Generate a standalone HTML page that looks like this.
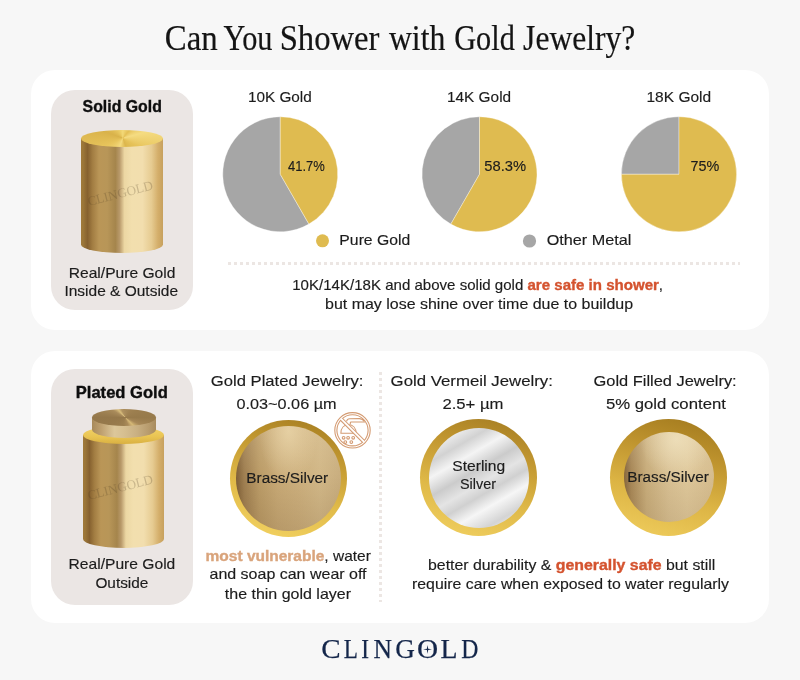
<!DOCTYPE html>
<html><head><meta charset="utf-8"><title>Can You Shower with Gold Jewelry?</title>
<style>
*{margin:0;padding:0;box-sizing:border-box}
html,body{width:800px;height:680px;overflow:hidden;background:#f7f7f7;font-family:"Liberation Sans",sans-serif}
.a{position:absolute}
.card{position:absolute;left:31px;width:738px;background:#fff;border-radius:24px}
.panel{position:absolute;left:51px;width:142px;background:#ebe6e4;border-radius:24px}
.hdots{position:absolute;height:3px;background:repeating-linear-gradient(90deg,#ece6e3 0 3px,transparent 3px 6px)}
.vdots{position:absolute;width:3px;background:repeating-linear-gradient(180deg,#ece6e3 0 3px,transparent 3px 6px)}
.cylside{position:absolute;background:linear-gradient(90deg,#a07a3a 0%,#9a7538 3%,#86612f 8%,#a27d42 14%,#ba9657 22%,#b89658 32%,#a5854c 42%,#b8996a 47%,#ecd7a3 53%,#f2dfae 62%,#f2deae 75%,#e6cb91 86%,#d4ae6a 94%,#c7a15e 100%)}
.ell{position:absolute;border-radius:50%}
.coin{position:absolute;border-radius:50%}
svg{position:absolute;left:0;top:0;will-change:transform}
</style></head><body>
<div class="card" style="top:70px;height:260px"></div>
<div class="card" style="top:351px;height:272px"></div>
<div class="panel" style="top:90px;height:220px"></div>
<div class="panel" style="top:369px;height:236px"></div>
<div class="hdots" style="left:228px;top:262px;width:512px"></div>
<div class="vdots" style="left:379px;top:372px;height:230px"></div>

<!-- solid gold cylinder -->
<div class="cylside" style="left:81px;top:138px;width:81.5px;height:115px;border-radius:0 0 40.75px 40.75px / 0 0 8.5px 8.5px"></div>
<div class="ell" style="left:81px;top:130px;width:81.5px;height:17px;background:conic-gradient(from 0deg at 51% 48%,#f3d978 0deg,#e4bf55 40deg,#f5dc82 75deg,#e6c258 120deg,#dcb64c 160deg,#f4da7e 200deg,#e8c55c 245deg,#d9b24a 290deg,#e9c860 330deg,#f3d978 360deg)"></div>

<!-- plated cylinder -->
<div class="cylside" style="left:83px;top:435px;width:81px;height:113px;border-radius:0 0 40.5px 40.5px / 0 0 9px 9px"></div>
<div class="ell" style="left:83px;top:426px;width:81px;height:18px;background:linear-gradient(180deg,#f3d46a,#e9c452 60%,#d9b042)"></div>
<div class="cylside" style="left:92px;top:417.5px;width:64px;height:20.5px;border-radius:0 0 32px 32px / 0 0 8.5px 8.5px;background:linear-gradient(90deg,#a88a5b 0%,#bfa171 15%,#dcc79a 35%,#d6bf91 50%,#c9b083 70%,#b89c6e 88%,#a88b5e 100%)"></div>
<div class="ell" style="left:92px;top:409px;width:64px;height:17px;background:conic-gradient(from 0deg at 52% 50%,#a88a5a 0deg,#9f8151 40deg,#977a4b 90deg,#a78858 115deg,#d6b977 135deg,#a98a59 160deg,#9b7e4f 200deg,#94774a 270deg,#a98b5b 300deg,#d9bd7c 318deg,#b09260 335deg,#a88a5a 360deg)"></div>

<!-- coins -->
<div class="coin" style="left:229.6px;top:420px;width:117.4px;height:117.4px;background:linear-gradient(195deg,#a27a20 0%,#c29830 30%,#e2bc4a 63%,#f4d464 100%)"></div>
<div class="coin" style="left:236.2px;top:425.8px;width:104.8px;height:104.8px;background:radial-gradient(ellipse 28% 50% at 50% 5%,rgba(236,216,172,.75),rgba(236,216,172,0)),linear-gradient(180deg,rgba(255,240,210,.15) 0%,rgba(0,0,0,0) 45%,rgba(80,50,15,.14) 100%),linear-gradient(90deg,#7f6038 0%,#a08052 8%,#bb9c68 22%,#c8aa77 40%,#cdb07e 60%,#d2b888 80%,#c9ae7f 100%)"></div>

<div class="coin" style="left:419.5px;top:418.9px;width:117.6px;height:117.6px;background:linear-gradient(195deg,#a27a20 0%,#c19630 30%,#dfb948 63%,#f2d162 100%)"></div>
<div class="coin" style="left:428.8px;top:427.5px;width:100px;height:100px;background:linear-gradient(150deg,#dedede 0%,#f2f2f2 10%,#d2d2d2 22%,#f4f4f4 32%,#cbcbcb 44%,#e4e4e4 54%,#d0d0d0 62%,#f6f6f6 72%,#d4d4d4 84%,#ececec 94%,#dcdcdc 100%)"></div>

<div class="coin" style="left:609.9px;top:418.9px;width:117.6px;height:117.6px;background:linear-gradient(195deg,#9f771c 0%,#bd922d 30%,#dcb444 62%,#f1cf5f 100%)"></div>
<div class="coin" style="left:623.8px;top:432.4px;width:89.8px;height:89.8px;background:radial-gradient(ellipse 40% 45% at 58% 8%,rgba(240,226,190,.8),rgba(240,226,190,0)),linear-gradient(180deg,rgba(255,245,220,.15) 0%,rgba(0,0,0,0) 45%,rgba(90,60,20,.1) 100%),linear-gradient(90deg,#86673e 0%,#a88858 8%,#c8ad7c 25%,#d8c093 50%,#dec79a 70%,#d6bd8f 100%)"></div>

<svg width="800" height="680" viewBox="0 0 800 680">
<path d="M280.25,174.25 L308.90,224.11 A57.5,57.5 0 1 1 280.25,116.75 Z" fill="#a6a6a6" stroke="#fff" stroke-width="0.35"/><path d="M280.25,174.25 L280.25,116.75 A57.5,57.5 0 0 1 308.90,224.11 Z" fill="#dfbb50" stroke="#fff" stroke-width="0.35"/><path d="M479.5,174.25 L450.85,224.11 A57.5,57.5 0 0 1 479.5,116.75 Z" fill="#a6a6a6" stroke="#fff" stroke-width="0.35"/><path d="M479.5,174.25 L479.5,116.75 A57.5,57.5 0 1 1 450.85,224.11 Z" fill="#dfbb50" stroke="#fff" stroke-width="0.35"/><path d="M679,174.25 L621.40,174.25 A57.6,57.6 0 0 1 679,116.65 Z" fill="#a6a6a6" stroke="#fff" stroke-width="0.35"/><path d="M679,174.25 L679,116.65 A57.6,57.6 0 1 1 621.40,174.25 Z" fill="#dfbb50" stroke="#fff" stroke-width="0.35"/>
<circle cx="322.5" cy="240.8" r="6.5" fill="#dfbb50"/><circle cx="529.5" cy="241" r="6.6" fill="#a6a6a6"/>
<!-- watermarks -->
<text x="0" y="0" font-size="13.2" fill="#4a3a20" fill-opacity="0.24" textLength="67" lengthAdjust="spacing" transform="translate(88.9,206) rotate(-14.5)" font-family="'Liberation Serif', serif">CLINGOLD</text>
<text x="0" y="0" font-size="13.2" fill="#4a3a20" fill-opacity="0.24" textLength="67" lengthAdjust="spacing" transform="translate(88.9,500) rotate(-14.5)" font-family="'Liberation Serif', serif">CLINGOLD</text>
<!-- no shower icon -->
<g fill="none" stroke="#d49b72" stroke-width="1.1">
<circle cx="352.5" cy="430.3" r="17.7"/>
<circle cx="352.5" cy="430.3" r="15.6"/>
<path d="M340.9,433.3 C340.9,428 344,424.8 348.5,424.8 C353,424.8 356.1,428 356.1,433.3 Z"/>
<path d="M346.5,421.3 C347,419.6 348,418.7 349.6,418.7 L359.5,418.6 C361.8,418.7 363.3,419.7 364.3,421.4"/>
<path d="M350.3,424.6 L350.3,422.8 C350.3,422.2 350.7,422 351.3,422 L365,422"/>
<circle cx="343.6" cy="437.8" r="1.35"/><circle cx="348.1" cy="437.8" r="1.35"/><circle cx="353.2" cy="437.8" r="1.35"/>
<circle cx="345.3" cy="442.1" r="1.35"/><circle cx="351.3" cy="442.1" r="1.35"/>
<line x1="341.47" y1="419.27" x2="363.53" y2="441.33" stroke-width="3.9"/>
<line x1="340.9" y1="418.7" x2="364.1" y2="441.9" stroke="#fff" stroke-width="1.9"/>
</g>
<text x="164.76" y="50.2" font-size="35" textLength="52.91" lengthAdjust="spacingAndGlyphs" font-family="'Liberation Serif', serif"><tspan font-weight="400" fill="#141414" stroke="#141414" stroke-width="0.2">Can</tspan></text>
<text x="223.40" y="50.2" font-size="35" textLength="49.13" lengthAdjust="spacingAndGlyphs" font-family="'Liberation Serif', serif"><tspan font-weight="400" fill="#141414" stroke="#141414" stroke-width="0.2">You</tspan></text>
<text x="279.63" y="50.2" font-size="35" textLength="99.85" lengthAdjust="spacingAndGlyphs" font-family="'Liberation Serif', serif"><tspan font-weight="400" fill="#141414" stroke="#141414" stroke-width="0.2">Shower</tspan></text>
<text x="388.90" y="50.2" font-size="35" textLength="56.45" lengthAdjust="spacingAndGlyphs" font-family="'Liberation Serif', serif"><tspan font-weight="400" fill="#141414" stroke="#141414" stroke-width="0.2">with</tspan></text>
<text x="454.24" y="50.2" font-size="35" textLength="60.53" lengthAdjust="spacingAndGlyphs" font-family="'Liberation Serif', serif"><tspan font-weight="400" fill="#141414" stroke="#141414" stroke-width="0.2">Gold</tspan></text>
<text x="523.10" y="50.2" font-size="35" textLength="112.28" lengthAdjust="spacingAndGlyphs" font-family="'Liberation Serif', serif"><tspan font-weight="400" fill="#141414" stroke="#141414" stroke-width="0.2">Jewelry?</tspan></text>
<text x="82.60" y="112" font-size="16.2" textLength="79.27" lengthAdjust="spacingAndGlyphs" font-family="'Liberation Sans', sans-serif"><tspan font-weight="700" fill="#0e0e0e" stroke="#0e0e0e" stroke-width="0.35">Solid Gold</tspan></text>
<text x="68.70" y="277.8" font-size="14.2" textLength="106.78" lengthAdjust="spacingAndGlyphs" font-family="'Liberation Sans', sans-serif"><tspan font-weight="400" fill="#1c1c1c" stroke="#1c1c1c" stroke-width="0.15">Real/Pure Gold</tspan></text>
<text x="64.41" y="296.3" font-size="14.2" textLength="113.67" lengthAdjust="spacingAndGlyphs" font-family="'Liberation Sans', sans-serif"><tspan font-weight="400" fill="#1c1c1c" stroke="#1c1c1c" stroke-width="0.15">Inside &amp; Outside</tspan></text>
<text x="247.91" y="101.7" font-size="15.5" textLength="63.90" lengthAdjust="spacingAndGlyphs" font-family="'Liberation Sans', sans-serif"><tspan font-weight="400" fill="#1c1c1c" stroke="#1c1c1c" stroke-width="0.15">10K Gold</tspan></text>
<text x="447.01" y="102.2" font-size="15.5" textLength="64.11" lengthAdjust="spacingAndGlyphs" font-family="'Liberation Sans', sans-serif"><tspan font-weight="400" fill="#1c1c1c" stroke="#1c1c1c" stroke-width="0.15">14K Gold</tspan></text>
<text x="646.50" y="101.9" font-size="15.5" textLength="64.62" lengthAdjust="spacingAndGlyphs" font-family="'Liberation Sans', sans-serif"><tspan font-weight="400" fill="#1c1c1c" stroke="#1c1c1c" stroke-width="0.15">18K Gold</tspan></text>
<text x="288.00" y="171.2" font-size="15.5" textLength="36.82" lengthAdjust="spacingAndGlyphs" font-family="'Liberation Sans', sans-serif"><tspan font-weight="400" fill="#1c1c1c" stroke="#1c1c1c" stroke-width="0.15">41.7%</tspan></text>
<text x="484.25" y="171.2" font-size="15.5" textLength="41.79" lengthAdjust="spacingAndGlyphs" font-family="'Liberation Sans', sans-serif"><tspan font-weight="400" fill="#1c1c1c" stroke="#1c1c1c" stroke-width="0.15">58.3%</tspan></text>
<text x="690.50" y="170.8" font-size="15.5" textLength="28.80" lengthAdjust="spacingAndGlyphs" font-family="'Liberation Sans', sans-serif"><tspan font-weight="400" fill="#1c1c1c" stroke="#1c1c1c" stroke-width="0.15">75%</tspan></text>
<text x="339.39" y="244.8" font-size="14.2" textLength="70.90" lengthAdjust="spacingAndGlyphs" font-family="'Liberation Sans', sans-serif"><tspan font-weight="400" fill="#1c1c1c" stroke="#1c1c1c" stroke-width="0.15">Pure Gold</tspan></text>
<text x="546.70" y="245.1" font-size="14.2" textLength="84.67" lengthAdjust="spacingAndGlyphs" font-family="'Liberation Sans', sans-serif"><tspan font-weight="400" fill="#1c1c1c" stroke="#1c1c1c" stroke-width="0.15">Other Metal</tspan></text>
<text x="292.21" y="290" font-size="14.5" textLength="370.86" lengthAdjust="spacingAndGlyphs" font-family="'Liberation Sans', sans-serif"><tspan font-weight="400" fill="#1c1c1c" stroke="#1c1c1c" stroke-width="0.15">10K/14K/18K and above solid gold </tspan><tspan font-weight="700" fill="#d4532f" stroke="#d4532f" stroke-width="0.35">are safe in shower</tspan><tspan font-weight="400" fill="#1c1c1c" stroke="#1c1c1c" stroke-width="0.15">,</tspan></text>
<text x="325.00" y="308.8" font-size="14.5" textLength="308.07" lengthAdjust="spacingAndGlyphs" font-family="'Liberation Sans', sans-serif"><tspan font-weight="400" fill="#1c1c1c" stroke="#1c1c1c" stroke-width="0.15">but may lose shine over time due to buildup</tspan></text>
<text x="75.78" y="397.9" font-size="16.2" textLength="92.03" lengthAdjust="spacingAndGlyphs" font-family="'Liberation Sans', sans-serif"><tspan font-weight="700" fill="#0e0e0e" stroke="#0e0e0e" stroke-width="0.35">Plated Gold</tspan></text>
<text x="68.60" y="568.8" font-size="14.2" textLength="106.68" lengthAdjust="spacingAndGlyphs" font-family="'Liberation Sans', sans-serif"><tspan font-weight="400" fill="#1c1c1c" stroke="#1c1c1c" stroke-width="0.15">Real/Pure Gold</tspan></text>
<text x="95.40" y="587.7" font-size="14.2" textLength="52.98" lengthAdjust="spacingAndGlyphs" font-family="'Liberation Sans', sans-serif"><tspan font-weight="400" fill="#1c1c1c" stroke="#1c1c1c" stroke-width="0.15">Outside</tspan></text>
<text x="210.80" y="385.7" font-size="15.4" textLength="152.58" lengthAdjust="spacingAndGlyphs" font-family="'Liberation Sans', sans-serif"><tspan font-weight="400" fill="#1c1c1c" stroke="#1c1c1c" stroke-width="0.15">Gold Plated Jewelry:</tspan></text>
<text x="236.50" y="409.3" font-size="15.4" textLength="100.07" lengthAdjust="spacingAndGlyphs" font-family="'Liberation Sans', sans-serif"><tspan font-weight="400" fill="#1c1c1c" stroke="#1c1c1c" stroke-width="0.15">0.03~0.06 µm</tspan></text>
<text x="390.60" y="385.7" font-size="15.4" textLength="162.29" lengthAdjust="spacingAndGlyphs" font-family="'Liberation Sans', sans-serif"><tspan font-weight="400" fill="#1c1c1c" stroke="#1c1c1c" stroke-width="0.15">Gold Vermeil Jewelry:</tspan></text>
<text x="442.40" y="409.3" font-size="15.4" textLength="60.99" lengthAdjust="spacingAndGlyphs" font-family="'Liberation Sans', sans-serif"><tspan font-weight="400" fill="#1c1c1c" stroke="#1c1c1c" stroke-width="0.15">2.5+ µm</tspan></text>
<text x="593.50" y="385.7" font-size="15.4" textLength="143.16" lengthAdjust="spacingAndGlyphs" font-family="'Liberation Sans', sans-serif"><tspan font-weight="400" fill="#1c1c1c" stroke="#1c1c1c" stroke-width="0.15">Gold Filled Jewelry:</tspan></text>
<text x="605.90" y="409.3" font-size="15.4" textLength="120.01" lengthAdjust="spacingAndGlyphs" font-family="'Liberation Sans', sans-serif"><tspan font-weight="400" fill="#1c1c1c" stroke="#1c1c1c" stroke-width="0.15">5% gold content</tspan></text>
<text x="246.30" y="482.6" font-size="14" textLength="81.93" lengthAdjust="spacingAndGlyphs" font-family="'Liberation Sans', sans-serif"><tspan font-weight="400" fill="#1c1c1c" stroke="#1c1c1c" stroke-width="0.15">Brass/Silver</tspan></text>
<text x="452.30" y="470.5" font-size="14" textLength="52.88" lengthAdjust="spacingAndGlyphs" font-family="'Liberation Sans', sans-serif"><tspan font-weight="400" fill="#1c1c1c" stroke="#1c1c1c" stroke-width="0.15">Sterling</tspan></text>
<text x="460.00" y="489.4" font-size="14" textLength="36.05" lengthAdjust="spacingAndGlyphs" font-family="'Liberation Sans', sans-serif"><tspan font-weight="400" fill="#1c1c1c" stroke="#1c1c1c" stroke-width="0.15">Silver</tspan></text>
<text x="627.31" y="482" font-size="14" textLength="81.52" lengthAdjust="spacingAndGlyphs" font-family="'Liberation Sans', sans-serif"><tspan font-weight="400" fill="#1c1c1c" stroke="#1c1c1c" stroke-width="0.15">Brass/Silver</tspan></text>
<text x="205.60" y="560.7" font-size="14.5" textLength="165.22" lengthAdjust="spacingAndGlyphs" font-family="'Liberation Sans', sans-serif"><tspan font-weight="700" fill="#d9a47c" stroke="#d9a47c" stroke-width="0.35">most vulnerable</tspan><tspan font-weight="400" fill="#1c1c1c" stroke="#1c1c1c" stroke-width="0.15">, water</tspan></text>
<text x="209.50" y="579.4" font-size="14.5" textLength="157.03" lengthAdjust="spacingAndGlyphs" font-family="'Liberation Sans', sans-serif"><tspan font-weight="400" fill="#1c1c1c" stroke="#1c1c1c" stroke-width="0.15">and soap can wear off</tspan></text>
<text x="224.80" y="598.5" font-size="14.5" textLength="126.21" lengthAdjust="spacingAndGlyphs" font-family="'Liberation Sans', sans-serif"><tspan font-weight="400" fill="#1c1c1c" stroke="#1c1c1c" stroke-width="0.15">the thin gold layer</tspan></text>
<text x="428.00" y="570.2" font-size="14.5" textLength="287.34" lengthAdjust="spacingAndGlyphs" font-family="'Liberation Sans', sans-serif"><tspan font-weight="400" fill="#1c1c1c" stroke="#1c1c1c" stroke-width="0.15">better durability &amp; </tspan><tspan font-weight="700" fill="#d4532f" stroke="#d4532f" stroke-width="0.35">generally safe</tspan><tspan font-weight="400" fill="#1c1c1c" stroke="#1c1c1c" stroke-width="0.15"> but still</tspan></text>
<text x="412.00" y="588.7" font-size="14.5" textLength="316.98" lengthAdjust="spacingAndGlyphs" font-family="'Liberation Sans', sans-serif"><tspan font-weight="400" fill="#1c1c1c" stroke="#1c1c1c" stroke-width="0.15">require care when exposed to water regularly</tspan></text>
<text x="321.34" y="658.3" font-size="27.5" textLength="19.37" lengthAdjust="spacingAndGlyphs" font-family="'Liberation Serif', serif"><tspan font-weight="400" fill="#14264a" stroke="#14264a" stroke-width="0.25">C</tspan></text>
<text x="343.80" y="658.3" font-size="27.5" textLength="14.17" lengthAdjust="spacingAndGlyphs" font-family="'Liberation Serif', serif"><tspan font-weight="400" fill="#14264a" stroke="#14264a" stroke-width="0.25">L</tspan></text>
<text x="361.35" y="658.3" font-size="27.5" textLength="7.78" lengthAdjust="spacingAndGlyphs" font-family="'Liberation Serif', serif"><tspan font-weight="400" fill="#14264a" stroke="#14264a" stroke-width="0.25">I</tspan></text>
<text x="373.50" y="658.3" font-size="27.5" textLength="18.47" lengthAdjust="spacingAndGlyphs" font-family="'Liberation Serif', serif"><tspan font-weight="400" fill="#14264a" stroke="#14264a" stroke-width="0.25">N</tspan></text>
<text x="395.21" y="658.3" font-size="27.5" textLength="19.64" lengthAdjust="spacingAndGlyphs" font-family="'Liberation Serif', serif"><tspan font-weight="400" fill="#14264a" stroke="#14264a" stroke-width="0.25">G</tspan></text>
<text x="417.03" y="658.3" font-size="27.5" textLength="21.18" lengthAdjust="spacingAndGlyphs" font-family="'Liberation Serif', serif"><tspan font-weight="400" fill="#14264a" stroke="#14264a" stroke-width="0.25">O</tspan></text>
<text x="440.60" y="658.3" font-size="27.5" textLength="17.01" lengthAdjust="spacingAndGlyphs" font-family="'Liberation Serif', serif"><tspan font-weight="400" fill="#14264a" stroke="#14264a" stroke-width="0.25">L</tspan></text>
<text x="461.20" y="658.3" font-size="27.5" textLength="17.14" lengthAdjust="spacingAndGlyphs" font-family="'Liberation Serif', serif"><tspan font-weight="400" fill="#14264a" stroke="#14264a" stroke-width="0.25">D</tspan></text>
<!-- logo star -->
<path d="M427.55,644.9 L428.2,648.65 L432,649.3 L428.2,649.95 L427.55,653.7 L426.9,649.95 L423.1,649.3 L426.9,648.65 Z" fill="#14264a"/>
</svg>
</body></html>
